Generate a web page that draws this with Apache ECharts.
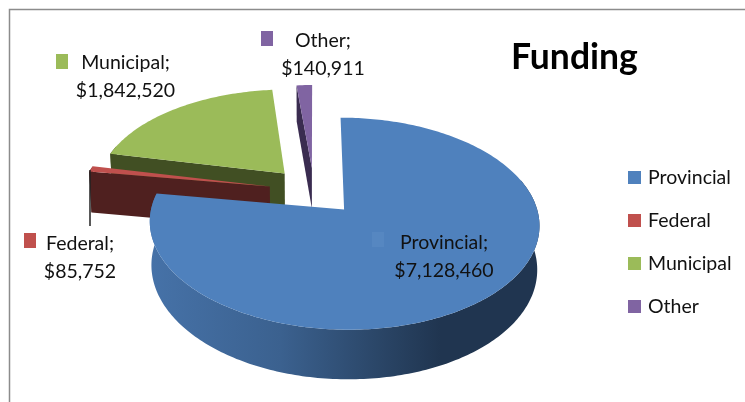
<!DOCTYPE html>
<html lang="en">
<head>
    <meta charset="UTF-8">
    <title>Funding</title>
    <script src="https://cdn.jsdelivr.net/npm/echarts@6/dist/echarts.min.js"></script>
    <style type="text/css">
        *{margin: 0;padding: 0;border: none}
        html,body{width: 100%;height: 100%;overflow: hidden;background: #fff}
        #main{width: 745px;height: 402px}
    </style>
</head>
<body>
<div id="main"></div>
<script type="text/javascript">
    var categories = ['Provincial', 'Federal', 'Municipal', 'Other'];
    var amounts = [7128460, 85752, 1842520, 140911];

    var topColors = ['#4f81bd', '#c0504d', '#9bbb59', '#8064a2'];
    var sideColors = ['#203550', '#4f201f', '#414f23', '#3a2c50'];

    // pie "3d" view: centre, radii, perspective, thickness, explosion
    var view = {cx: 314, cy: 191, rx: 188.5, ry: 99.25, persp: 0.13, depth: 42, shrink: 0.99, explode: 0.24};

    // label text anchor and small colour key for each slice
    var labelAt = [[444, 256.5], [80, 258], [125.5, 77], [323, 54.5]];
    var keyAt = [[372, 232], [24, 233], [56, 54], [261, 31]];
    var keyColors = ['#5687c1', '#c0504d', '#9bbb59', '#8064a2'];

    var total = amounts.reduce(function (a, b) { return a + b; }, 0);

    function project(a, b, low) {
        var s = 1 / (1 + view.persp * b);
        return [
            view.cx + view.rx * a * s * (low ? view.shrink : 1),
            view.cy - view.ry * b * s + (low ? view.depth * s : 0)
        ];
    }

    function money(v) {
        return '$' + v.toLocaleString('en-US');
    }

    function sliceRange(i) {
        var before = 0;
        for (var j = 0; j < i; j++) before += amounts[j];
        return [before / total * 360, (before + amounts[i]) / total * 360];
    }

    function renderSlice(i, value) {
        var range = sliceRange(i);
        var mid = (range[0] + range[1]) / 2 * Math.PI / 180;
        var ox = Math.sin(mid) * view.explode;
        var oy = Math.cos(mid) * view.explode;

        var topArc = [], lowArc = [], wallTop = [], wallLow = [];
        for (var d = range[0]; ; d += 1) {
            var t = Math.min(d, range[1]) * Math.PI / 180;
            var up = project(ox + Math.sin(t), oy + Math.cos(t), false);
            var down = project(ox + Math.sin(t), oy + Math.cos(t), true);
            topArc.push(up);
            lowArc.push(down);
            // back of the rim never shows
            if (Math.cos(t) < 0.3) {
                wallTop.push(up);
                wallLow.push(down);
            }
            if (d >= range[1]) break;
        }
        var apexTop = project(ox, oy, false);
        var apexLow = project(ox, oy, true);

        var wallFill = sideColors[i];
        if (i === 0) {
            wallFill = new echarts.graphic.LinearGradient(150, 0, 440, 0, [
                {offset: 0, color: '#4672a8'},
                {offset: 0.45, color: '#3b618f'},
                {offset: 0.8, color: '#2a4566'},
                {offset: 1, color: sideColors[0]}
            ], true);
        }

        var children = [];
        if (wallTop.length > 1) {
            children.push({
                type: 'polygon',
                shape: {points: wallTop.concat(wallLow.reverse())},
                style: {fill: wallFill}
            });
        }
        // the cut face on the counter-clockwise side; the big slice hides its own
        if (i > 0) {
            children.push({
                type: 'polygon',
                shape: {points: [topArc[0], lowArc[0], apexLow, apexTop]},
                style: {fill: sideColors[i]}
            });
        }
        children.push({
            type: 'polygon',
            shape: {points: [apexTop].concat(topArc)},
            style: {fill: topColors[i]}
        });
        // leader line on the federal slice
        if (categories[i] === 'Federal') {
            children.push({
                type: 'line',
                shape: {x1: 90, y1: 170, x2: 90, y2: 226},
                style: {stroke: '#222', lineWidth: 1.5}
            });
        }
        children.push({
            type: 'rect',
            shape: {x: keyAt[i][0], y: keyAt[i][1], width: 12, height: 15},
            style: {fill: keyColors[i]}
        });
        children.push({
            type: 'text',
            style: {
                x: labelAt[i][0],
                y: labelAt[i][1],
                text: categories[i] + ';\n' + money(value),
                fill: '#111',
                font: '19.5px Lato',
                lineHeight: 28,
                align: 'center',
                verticalAlign: 'middle'
            }
        });
        return {type: 'group', children: children};
    }

    // back slices first, provincial on top of everything
    var paintOrder = [3, 2, 1, 0];

    var series = categories.map(function (name, i) {
        return {
            name: name,
            type: 'custom',
            coordinateSystem: 'none',
            z: 2 + paintOrder[i],
            itemStyle: {color: topColors[i]},
            data: [[amounts[i]]],
            renderItem: function (params, api) {
                return renderSlice(i, api.value(0));
            }
        };
    });

    var myChart = echarts.init(document.getElementById('main'));
    myChart.setOption({
        animation: false,
        backgroundColor: '#fff',
        title: {
            text: 'Funding',
            left: 511,
            top: 40,
            padding: 0,
            textStyle: {fontFamily: 'Lato', fontSize: 35.5, fontWeight: 'bold', color: '#000'}
        },
        legend: {
            data: categories,
            orient: 'vertical',
            left: 628,
            top: 165,
            padding: 0,
            itemWidth: 13,
            itemHeight: 13,
            itemGap: 18,
            icon: 'rect',
            selectedMode: false,
            textStyle: {fontFamily: 'Lato', fontSize: 19.5, color: '#111', padding: [0, 0, 0, 2], lineHeight: 25}
        },
        graphic: [
            {
                type: 'polyline',
                silent: true,
                shape: {points: [[9.5, 402], [9.5, 9.5], [745, 9.5]]},
                style: {fill: 'none', stroke: '#8c8c8c', lineWidth: 1.5}
            }
        ],
        series: series
    });
</script>
</body>
</html>
